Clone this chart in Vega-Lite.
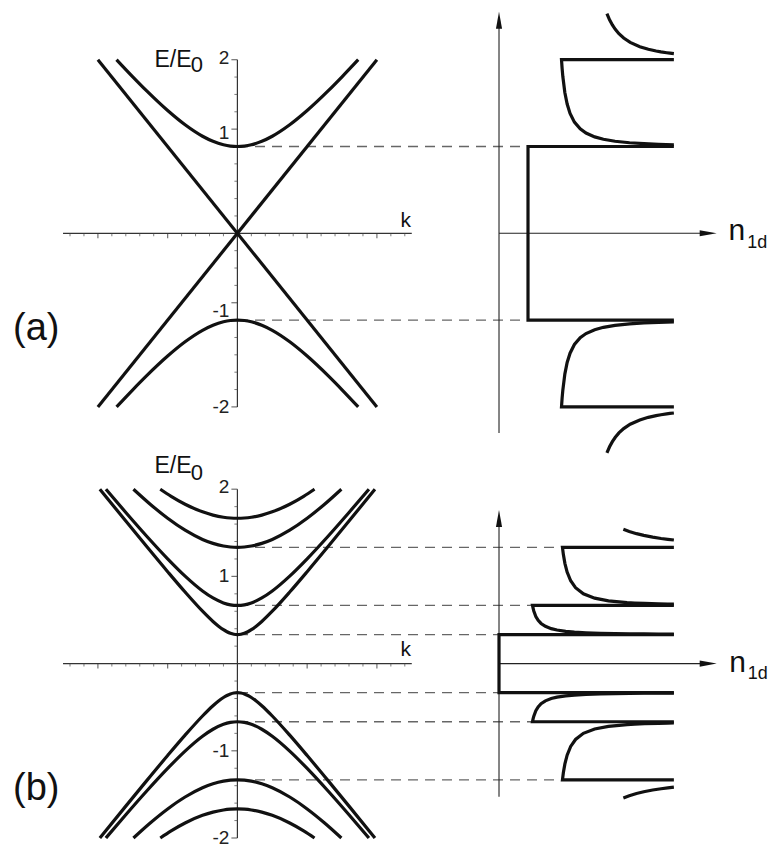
{
"$schema": "https://vega.github.io/schema/vega-lite/v6.json",
"padding": 0,
"spacing": 0,
"bounds": "flush",
"background": "white",
"config": {"view": {"stroke": null}, "font": "Liberation Sans", "concat": {"spacing": 0}},
"datasets": {
"bandA": [
{"c":"L1","k":-2,"E":-2},{"c":"L1","k":2,"E":2},
{"c":"L2","k":-2,"E":2},{"c":"L2","k":2,"E":-2},
{"c":"Hp","k":-1.7321,"E":2},{"c":"Hp","k":-1.5,"E":1.8028},{"c":"Hp","k":-1.3,"E":1.6401},{"c":"Hp","k":-1,"E":1.4142},{"c":"Hp","k":-0.75,"E":1.25},{"c":"Hp","k":-0.5,"E":1.118},{"c":"Hp","k":-0.35,"E":1.0595},{"c":"Hp","k":-0.2,"E":1.0198},{"c":"Hp","k":-0.1,"E":1.005},{"c":"Hp","k":0,"E":1},{"c":"Hp","k":0.1,"E":1.005},{"c":"Hp","k":0.2,"E":1.0198},{"c":"Hp","k":0.35,"E":1.0595},{"c":"Hp","k":0.5,"E":1.118},{"c":"Hp","k":0.75,"E":1.25},{"c":"Hp","k":1,"E":1.4142},{"c":"Hp","k":1.3,"E":1.6401},{"c":"Hp","k":1.5,"E":1.8028},{"c":"Hp","k":1.7321,"E":2},
{"c":"Hm","k":-1.7321,"E":-2},{"c":"Hm","k":-1.5,"E":-1.8028},{"c":"Hm","k":-1.3,"E":-1.6401},{"c":"Hm","k":-1,"E":-1.4142},{"c":"Hm","k":-0.75,"E":-1.25},{"c":"Hm","k":-0.5,"E":-1.118},{"c":"Hm","k":-0.35,"E":-1.0595},{"c":"Hm","k":-0.2,"E":-1.0198},{"c":"Hm","k":-0.1,"E":-1.005},{"c":"Hm","k":0,"E":-1},{"c":"Hm","k":0.1,"E":-1.005},{"c":"Hm","k":0.2,"E":-1.0198},{"c":"Hm","k":0.35,"E":-1.0595},{"c":"Hm","k":0.5,"E":-1.118},{"c":"Hm","k":0.75,"E":-1.25},{"c":"Hm","k":1,"E":-1.4142},{"c":"Hm","k":1.3,"E":-1.6401},{"c":"Hm","k":1.5,"E":-1.8028},{"c":"Hm","k":1.7321,"E":-2}
],
"bandB": [
{"c":"p1","k":-1.972,"E":2},{"c":"p1","k":-1.6,"E":1.6344},{"c":"p1","k":-1.3,"E":1.3421},{"c":"p1","k":-1,"E":1.0541},{"c":"p1","k":-0.75,"E":0.8207},{"c":"p1","k":-0.5,"E":0.6009},{"c":"p1","k":-0.35,"E":0.4833},{"c":"p1","k":-0.27,"E":0.429},{"c":"p1","k":-0.2,"E":0.3887},{"c":"p1","k":-0.15,"E":0.3655},{"c":"p1","k":-0.1,"E":0.348},{"c":"p1","k":-0.05,"E":0.337},{"c":"p1","k":0,"E":0.3333},{"c":"p1","k":0.05,"E":0.337},{"c":"p1","k":0.1,"E":0.348},{"c":"p1","k":0.15,"E":0.3655},{"c":"p1","k":0.2,"E":0.3887},{"c":"p1","k":0.27,"E":0.429},{"c":"p1","k":0.35,"E":0.4833},{"c":"p1","k":0.5,"E":0.6009},{"c":"p1","k":0.75,"E":0.8207},{"c":"p1","k":1,"E":1.0541},{"c":"p1","k":1.3,"E":1.3421},{"c":"p1","k":1.6,"E":1.6344},{"c":"p1","k":1.972,"E":2},
{"c":"m1","k":-1.972,"E":-2},{"c":"m1","k":-1.6,"E":-1.6344},{"c":"m1","k":-1.3,"E":-1.3421},{"c":"m1","k":-1,"E":-1.0541},{"c":"m1","k":-0.75,"E":-0.8207},{"c":"m1","k":-0.5,"E":-0.6009},{"c":"m1","k":-0.35,"E":-0.4833},{"c":"m1","k":-0.27,"E":-0.429},{"c":"m1","k":-0.2,"E":-0.3887},{"c":"m1","k":-0.15,"E":-0.3655},{"c":"m1","k":-0.1,"E":-0.348},{"c":"m1","k":-0.05,"E":-0.337},{"c":"m1","k":0,"E":-0.3333},{"c":"m1","k":0.05,"E":-0.337},{"c":"m1","k":0.1,"E":-0.348},{"c":"m1","k":0.15,"E":-0.3655},{"c":"m1","k":0.2,"E":-0.3887},{"c":"m1","k":0.27,"E":-0.429},{"c":"m1","k":0.35,"E":-0.4833},{"c":"m1","k":0.5,"E":-0.6009},{"c":"m1","k":0.75,"E":-0.8207},{"c":"m1","k":1,"E":-1.0541},{"c":"m1","k":1.3,"E":-1.3421},{"c":"m1","k":1.6,"E":-1.6344},{"c":"m1","k":1.972,"E":-2},
{"c":"p2","k":-1.8856,"E":2},{"c":"p2","k":-1.6,"E":1.7333},{"c":"p2","k":-1.3,"E":1.461},{"c":"p2","k":-1,"E":1.2019},{"c":"p2","k":-0.75,"E":1.0035},{"c":"p2","k":-0.5,"E":0.8333},{"c":"p2","k":-0.35,"E":0.753},{"c":"p2","k":-0.2,"E":0.696},{"c":"p2","k":-0.1,"E":0.6741},{"c":"p2","k":0,"E":0.6667},{"c":"p2","k":0.1,"E":0.6741},{"c":"p2","k":0.2,"E":0.696},{"c":"p2","k":0.35,"E":0.753},{"c":"p2","k":0.5,"E":0.8333},{"c":"p2","k":0.75,"E":1.0035},{"c":"p2","k":1,"E":1.2019},{"c":"p2","k":1.3,"E":1.461},{"c":"p2","k":1.6,"E":1.7333},{"c":"p2","k":1.8856,"E":2},
{"c":"m2","k":-1.8856,"E":-2},{"c":"m2","k":-1.6,"E":-1.7333},{"c":"m2","k":-1.3,"E":-1.461},{"c":"m2","k":-1,"E":-1.2019},{"c":"m2","k":-0.75,"E":-1.0035},{"c":"m2","k":-0.5,"E":-0.8333},{"c":"m2","k":-0.35,"E":-0.753},{"c":"m2","k":-0.2,"E":-0.696},{"c":"m2","k":-0.1,"E":-0.6741},{"c":"m2","k":0,"E":-0.6667},{"c":"m2","k":0.1,"E":-0.6741},{"c":"m2","k":0.2,"E":-0.696},{"c":"m2","k":0.35,"E":-0.753},{"c":"m2","k":0.5,"E":-0.8333},{"c":"m2","k":0.75,"E":-1.0035},{"c":"m2","k":1,"E":-1.2019},{"c":"m2","k":1.3,"E":-1.461},{"c":"m2","k":1.6,"E":-1.7333},{"c":"m2","k":1.8856,"E":-2},
{"c":"p4","k":-1.4907,"E":2},{"c":"p4","k":-1.25,"E":1.8278},{"c":"p4","k":-1,"E":1.6667},{"c":"p4","k":-0.75,"E":1.5298},{"c":"p4","k":-0.5,"E":1.424},{"c":"p4","k":-0.35,"E":1.3785},{"c":"p4","k":-0.2,"E":1.3483},{"c":"p4","k":-0.1,"E":1.3371},{"c":"p4","k":0,"E":1.3333},{"c":"p4","k":0.1,"E":1.3371},{"c":"p4","k":0.2,"E":1.3483},{"c":"p4","k":0.35,"E":1.3785},{"c":"p4","k":0.5,"E":1.424},{"c":"p4","k":0.75,"E":1.5298},{"c":"p4","k":1,"E":1.6667},{"c":"p4","k":1.25,"E":1.8278},{"c":"p4","k":1.4907,"E":2},
{"c":"m4","k":-1.4907,"E":-2},{"c":"m4","k":-1.25,"E":-1.8278},{"c":"m4","k":-1,"E":-1.6667},{"c":"m4","k":-0.75,"E":-1.5298},{"c":"m4","k":-0.5,"E":-1.424},{"c":"m4","k":-0.35,"E":-1.3785},{"c":"m4","k":-0.2,"E":-1.3483},{"c":"m4","k":-0.1,"E":-1.3371},{"c":"m4","k":0,"E":-1.3333},{"c":"m4","k":0.1,"E":-1.3371},{"c":"m4","k":0.2,"E":-1.3483},{"c":"m4","k":0.35,"E":-1.3785},{"c":"m4","k":0.5,"E":-1.424},{"c":"m4","k":0.75,"E":-1.5298},{"c":"m4","k":1,"E":-1.6667},{"c":"m4","k":1.25,"E":-1.8278},{"c":"m4","k":1.4907,"E":-2},
{"c":"p5","k":-1.1055,"E":2},{"c":"p5","k":-0.95,"E":1.9184},{"c":"p5","k":-0.75,"E":1.8277},{"c":"p5","k":-0.5,"E":1.7401},{"c":"p5","k":-0.35,"E":1.703},{"c":"p5","k":-0.2,"E":1.6786},{"c":"p5","k":-0.1,"E":1.6697},{"c":"p5","k":0,"E":1.6667},{"c":"p5","k":0.1,"E":1.6697},{"c":"p5","k":0.2,"E":1.6786},{"c":"p5","k":0.35,"E":1.703},{"c":"p5","k":0.5,"E":1.7401},{"c":"p5","k":0.75,"E":1.8277},{"c":"p5","k":0.95,"E":1.9184},{"c":"p5","k":1.1055,"E":2},
{"c":"m5","k":-1.1055,"E":-2},{"c":"m5","k":-0.95,"E":-1.9184},{"c":"m5","k":-0.75,"E":-1.8277},{"c":"m5","k":-0.5,"E":-1.7401},{"c":"m5","k":-0.35,"E":-1.703},{"c":"m5","k":-0.2,"E":-1.6786},{"c":"m5","k":-0.1,"E":-1.6697},{"c":"m5","k":0,"E":-1.6667},{"c":"m5","k":0.1,"E":-1.6697},{"c":"m5","k":0.2,"E":-1.6786},{"c":"m5","k":0.35,"E":-1.703},{"c":"m5","k":0.5,"E":-1.7401},{"c":"m5","k":0.75,"E":-1.8277},{"c":"m5","k":0.95,"E":-1.9184},{"c":"m5","k":1.1055,"E":-2}
],
"dosA": [
{"s":"tp","i":0,"n":3.721,"E":2.53},{"s":"tp","i":1,"n":3.812,"E":2.46},{"s":"tp","i":2,"n":3.909,"E":2.4},{"s":"tp","i":3,"n":4.01,"E":2.35},{"s":"tp","i":4,"n":4.135,"E":2.3},{"s":"tp","i":5,"n":4.299,"E":2.25},{"s":"tp","i":6,"n":4.523,"E":2.2},{"s":"tp","i":7,"n":4.855,"E":2.15},{"s":"tp","i":8,"n":5.149,"E":2.12},{"s":"tp","i":9,"n":5.417,"E":2.1},{"s":"tp","i":10,"n":5.584,"E":2.09},{"s":"tp","i":11,"n":5.781,"E":2.08},{"s":"tp","i":12,"n":5.895,"E":2.075},{"s":"tp","i":13,"n":6.03,"E":2.07},
{"s":"tm","i":0,"n":3.721,"E":-2.53},{"s":"tm","i":1,"n":3.812,"E":-2.46},{"s":"tm","i":2,"n":3.909,"E":-2.4},{"s":"tm","i":3,"n":4.01,"E":-2.35},{"s":"tm","i":4,"n":4.135,"E":-2.3},{"s":"tm","i":5,"n":4.299,"E":-2.25},{"s":"tm","i":6,"n":4.523,"E":-2.2},{"s":"tm","i":7,"n":4.855,"E":-2.15},{"s":"tm","i":8,"n":5.149,"E":-2.12},{"s":"tm","i":9,"n":5.417,"E":-2.1},{"s":"tm","i":10,"n":5.584,"E":-2.09},{"s":"tm","i":11,"n":5.781,"E":-2.08},{"s":"tm","i":12,"n":5.895,"E":-2.075},{"s":"tm","i":13,"n":6.03,"E":-2.07},
{"s":"cp","i":0,"n":6.03,"E":2},{"s":"cp","i":1,"n":2.155,"E":2},{"s":"cp","i":2,"n":2.176,"E":1.9},{"s":"cp","i":3,"n":2.2,"E":1.8091},{"s":"cp","i":4,"n":2.27,"E":1.6222},{"s":"cp","i":5,"n":2.35,"E":1.4886},{"s":"cp","i":6,"n":2.45,"E":1.381},{"s":"cp","i":7,"n":2.6,"E":1.281},{"s":"cp","i":8,"n":2.8,"E":1.2027},{"s":"cp","i":9,"n":3,"E":1.1547},{"s":"cp","i":10,"n":3.3,"E":1.1105},{"s":"cp","i":11,"n":3.6,"E":1.0833},{"s":"cp","i":12,"n":4,"E":1.0607},{"s":"cp","i":13,"n":4.5,"E":1.0435},{"s":"cp","i":14,"n":5,"E":1.0328},{"s":"cp","i":15,"n":5.5,"E":1.0256},{"s":"cp","i":16,"n":6.03,"E":1.0204},
{"s":"cm","i":0,"n":6.03,"E":-2},{"s":"cm","i":1,"n":2.155,"E":-2},{"s":"cm","i":2,"n":2.176,"E":-1.9},{"s":"cm","i":3,"n":2.2,"E":-1.8091},{"s":"cm","i":4,"n":2.27,"E":-1.6222},{"s":"cm","i":5,"n":2.35,"E":-1.4886},{"s":"cm","i":6,"n":2.45,"E":-1.381},{"s":"cm","i":7,"n":2.6,"E":-1.281},{"s":"cm","i":8,"n":2.8,"E":-1.2027},{"s":"cm","i":9,"n":3,"E":-1.1547},{"s":"cm","i":10,"n":3.3,"E":-1.1105},{"s":"cm","i":11,"n":3.6,"E":-1.0833},{"s":"cm","i":12,"n":4,"E":-1.0607},{"s":"cm","i":13,"n":4.5,"E":-1.0435},{"s":"cm","i":14,"n":5,"E":-1.0328},{"s":"cm","i":15,"n":5.5,"E":-1.0256},{"s":"cm","i":16,"n":6.03,"E":-1.0204},
{"s":"c0","i":0,"n":6.03,"E":1},{"s":"c0","i":1,"n":1,"E":1},{"s":"c0","i":2,"n":1,"E":-1},{"s":"c0","i":3,"n":6.03,"E":-1}
],
"dosB": [
{"s":"tp","i":0,"n":4.288,"E":1.54},{"s":"tp","i":1,"n":4.491,"E":1.515},{"s":"tp","i":2,"n":4.742,"E":1.49},{"s":"tp","i":3,"n":4.99,"E":1.47},{"s":"tp","i":4,"n":5.299,"E":1.45},{"s":"tp","i":5,"n":5.589,"E":1.435},{"s":"tp","i":6,"n":5.82,"E":1.425},{"s":"tp","i":7,"n":6.03,"E":1.417},
{"s":"tm","i":0,"n":4.288,"E":-1.54},{"s":"tm","i":1,"n":4.491,"E":-1.515},{"s":"tm","i":2,"n":4.742,"E":-1.49},{"s":"tm","i":3,"n":4.99,"E":-1.47},{"s":"tm","i":4,"n":5.299,"E":-1.45},{"s":"tm","i":5,"n":5.589,"E":-1.435},{"s":"tm","i":6,"n":5.82,"E":-1.425},{"s":"tm","i":7,"n":6.03,"E":-1.417},
{"s":"c4p","i":0,"n":6.03,"E":1.3333},{"s":"c4p","i":1,"n":2.188,"E":1.3333},{"s":"c4p","i":2,"n":2.2197,"E":1.25},{"s":"c4p","i":3,"n":2.272,"E":1.15},{"s":"c4p","i":4,"n":2.349,"E":1.05},{"s":"c4p","i":5,"n":2.4715,"E":0.95},{"s":"c4p","i":6,"n":2.639,"E":0.87},{"s":"c4p","i":7,"n":2.909,"E":0.8},{"s":"c4p","i":8,"n":3.299,"E":0.75},{"s":"c4p","i":9,"n":3.775,"E":0.72},{"s":"c4p","i":10,"n":4.415,"E":0.7},{"s":"c4p","i":11,"n":4.678,"E":0.695},{"s":"c4p","i":12,"n":5.018,"E":0.69},{"s":"c4p","i":13,"n":5.495,"E":0.685},{"s":"c4p","i":14,"n":5.816,"E":0.6825},{"s":"c4p","i":15,"n":6.03,"E":0.6812},
{"s":"c4m","i":0,"n":6.03,"E":-1.3333},{"s":"c4m","i":1,"n":2.188,"E":-1.3333},{"s":"c4m","i":2,"n":2.2197,"E":-1.25},{"s":"c4m","i":3,"n":2.272,"E":-1.15},{"s":"c4m","i":4,"n":2.349,"E":-1.05},{"s":"c4m","i":5,"n":2.4715,"E":-0.95},{"s":"c4m","i":6,"n":2.639,"E":-0.87},{"s":"c4m","i":7,"n":2.909,"E":-0.8},{"s":"c4m","i":8,"n":3.299,"E":-0.75},{"s":"c4m","i":9,"n":3.775,"E":-0.72},{"s":"c4m","i":10,"n":4.415,"E":-0.7},{"s":"c4m","i":11,"n":4.678,"E":-0.695},{"s":"c4m","i":12,"n":5.018,"E":-0.69},{"s":"c4m","i":13,"n":5.495,"E":-0.685},{"s":"c4m","i":14,"n":5.816,"E":-0.6825},{"s":"c4m","i":15,"n":6.03,"E":-0.6812},
{"s":"c2p","i":0,"n":6.03,"E":0.6667},{"s":"c2p","i":1,"n":1.1547,"E":0.6667},{"s":"c2p","i":2,"n":1.175,"E":0.635},{"s":"c2p","i":3,"n":1.2,"E":0.603},{"s":"c2p","i":4,"n":1.27,"E":0.5407},{"s":"c2p","i":5,"n":1.35,"E":0.4962},{"s":"c2p","i":6,"n":1.45,"E":0.4603},{"s":"c2p","i":7,"n":1.6,"E":0.427},{"s":"c2p","i":8,"n":1.8,"E":0.4009},{"s":"c2p","i":9,"n":2,"E":0.3849},{"s":"c2p","i":10,"n":2.3,"E":0.3702},{"s":"c2p","i":11,"n":2.6,"E":0.3611},{"s":"c2p","i":12,"n":3,"E":0.3536},{"s":"c2p","i":13,"n":3.5,"E":0.3478},{"s":"c2p","i":14,"n":4,"E":0.3443},{"s":"c2p","i":15,"n":4.5,"E":0.3419},{"s":"c2p","i":16,"n":5,"E":0.3402},{"s":"c2p","i":17,"n":5.5,"E":0.339},{"s":"c2p","i":18,"n":6.03,"E":0.338},
{"s":"c2m","i":0,"n":6.03,"E":-0.6667},{"s":"c2m","i":1,"n":1.1547,"E":-0.6667},{"s":"c2m","i":2,"n":1.175,"E":-0.635},{"s":"c2m","i":3,"n":1.2,"E":-0.603},{"s":"c2m","i":4,"n":1.27,"E":-0.5407},{"s":"c2m","i":5,"n":1.35,"E":-0.4962},{"s":"c2m","i":6,"n":1.45,"E":-0.4603},{"s":"c2m","i":7,"n":1.6,"E":-0.427},{"s":"c2m","i":8,"n":1.8,"E":-0.4009},{"s":"c2m","i":9,"n":2,"E":-0.3849},{"s":"c2m","i":10,"n":2.3,"E":-0.3702},{"s":"c2m","i":11,"n":2.6,"E":-0.3611},{"s":"c2m","i":12,"n":3,"E":-0.3536},{"s":"c2m","i":13,"n":3.5,"E":-0.3478},{"s":"c2m","i":14,"n":4,"E":-0.3443},{"s":"c2m","i":15,"n":4.5,"E":-0.3419},{"s":"c2m","i":16,"n":5,"E":-0.3402},{"s":"c2m","i":17,"n":5.5,"E":-0.339},{"s":"c2m","i":18,"n":6.03,"E":-0.338},
{"s":"c0","i":0,"n":6.03,"E":0.3333},{"s":"c0","i":1,"n":0,"E":0.3333},{"s":"c0","i":2,"n":0,"E":-0.3333},{"s":"c0","i":3,"n":6.03,"E":-0.3333}
],
"dashA": [{"E":1,"n0":-9,"n1":1},{"E":-1,"n0":-9,"n1":1}],
"dashB": [{"E":1.3333,"n0":-9,"n1":2.188},{"E":0.6667,"n0":-9,"n1":1.1547},{"E":0.3333,"n0":-9,"n1":0},{"E":-0.3333,"n0":-9,"n1":0},{"E":-0.6667,"n0":-9,"n1":1.1547},{"E":-1.3333,"n0":-9,"n1":2.188}],
"tickEA": [{"E":2,"m":1},{"E":1.8,"m":0},{"E":1.6,"m":0},{"E":1.4,"m":0},{"E":1.2,"m":1},{"E":1,"m":0},{"E":0.8,"m":0},{"E":0.6,"m":0},{"E":0.4,"m":0},{"E":0.2,"m":0},{"E":-0.2,"m":0},{"E":-0.4,"m":0},{"E":-0.6,"m":0},{"E":-0.8,"m":1},{"E":-1,"m":0},{"E":-1.2,"m":0},{"E":-1.4,"m":0},{"E":-1.6,"m":0},{"E":-1.8,"m":0},{"E":-2,"m":1}],
"tickEB": [{"E":2,"m":1},{"E":1.8,"m":0},{"E":1.6,"m":0},{"E":1.4,"m":0},{"E":1.2,"m":0},{"E":1,"m":1},{"E":0.8,"m":0},{"E":0.6,"m":0},{"E":0.4,"m":0},{"E":0.2,"m":0},{"E":-0.2,"m":0},{"E":-0.4,"m":0},{"E":-0.6,"m":0},{"E":-0.8,"m":0},{"E":-1,"m":1},{"E":-1.2,"m":0},{"E":-1.4,"m":0},{"E":-1.6,"m":0},{"E":-1.8,"m":0},{"E":-2,"m":1}],
"tickK": [{"k":-2.4,"m":0},{"k":-2.2,"m":0},{"k":-2,"m":1},{"k":-1.8,"m":0},{"k":-1.6,"m":0},{"k":-1.4,"m":0},{"k":-1.2,"m":0},{"k":-1,"m":1},{"k":-0.8,"m":0},{"k":-0.6,"m":0},{"k":-0.4,"m":0},{"k":-0.2,"m":0},{"k":0.2,"m":0},{"k":0.4,"m":0},{"k":0.6,"m":0},{"k":0.8,"m":0},{"k":1,"m":1},{"k":1.2,"m":0},{"k":1.4,"m":0},{"k":1.6,"m":0},{"k":1.8,"m":0},{"k":2,"m":1},{"k":2.2,"m":0},{"k":2.4,"m":0}],
"labA": [{"E":2.02,"t":"2"},{"E":1.16,"t":"1"},{"E":-0.9,"t":"-1"},{"E":-2,"t":"-2"}],
"labB": [{"E":2.02,"t":"2"},{"E":1,"t":"1"},{"E":-1,"t":"-1"},{"E":-2,"t":"-2"}]
},
"vconcat": [
{
"width": 771, "height": 456,
"resolve": {"scale": {"x": "independent", "y": "independent"}},
"layer": [
{"data": {"name": "dashA"}, "mark": {"type": "rule", "color": "#666", "strokeWidth": 1.3, "strokeDash": [10, 7]},
 "encoding": {"x": {"field": "n0", "type": "quantitative", "scale": {"domain": [-17.207, 9.379], "nice": false, "zero": false}, "axis": null}, "x2": {"field": "n1"}, "y": {"field": "E", "type": "quantitative", "scale": {"domain": [-2.5657, 2.6878], "nice": false, "zero": false}, "axis": null}}},
{"data": {"values": [{"k1": -2.5, "k2": 2.5, "E1": 0, "E2": 0}, {"k1": 0, "k2": 0, "E1": -2, "E2": 2}]}, "mark": {"type": "rule", "color": "#333", "strokeWidth": 1.2},
 "encoding": {"x": {"field": "k1", "type": "quantitative", "scale": {"domain": [-3.4036, 7.6502], "nice": false, "zero": false}, "axis": null}, "x2": {"field": "k2"}, "y": {"field": "E1", "type": "quantitative", "scale": {"domain": [-2.5657, 2.6878], "nice": false, "zero": false}, "axis": null}, "y2": {"field": "E2"}}},
{"data": {"name": "tickEA"}, "transform": [{"filter": "datum.m == 0"}], "mark": {"type": "tick", "orient": "horizontal", "size": 3, "thickness": 1, "xOffset": -1.5, "color": "#444"},
 "encoding": {"x": {"datum": 0, "type": "quantitative", "scale": {"domain": [-3.4036, 7.6502], "nice": false, "zero": false}, "axis": null}, "y": {"field": "E", "type": "quantitative", "scale": {"domain": [-2.5657, 2.6878], "nice": false, "zero": false}, "axis": null}}},
{"data": {"name": "tickEA"}, "transform": [{"filter": "datum.m == 1"}], "mark": {"type": "tick", "orient": "horizontal", "size": 6, "thickness": 1.2, "xOffset": -3, "color": "#333"},
 "encoding": {"x": {"datum": 0, "type": "quantitative", "scale": {"domain": [-3.4036, 7.6502], "nice": false, "zero": false}, "axis": null}, "y": {"field": "E", "type": "quantitative", "scale": {"domain": [-2.5657, 2.6878], "nice": false, "zero": false}, "axis": null}}},
{"data": {"name": "tickK"}, "transform": [{"filter": "datum.m == 0"}], "mark": {"type": "tick", "orient": "vertical", "size": 3, "thickness": 1, "yOffset": 1.5, "color": "#444"},
 "encoding": {"x": {"field": "k", "type": "quantitative", "scale": {"domain": [-3.4036, 7.6502], "nice": false, "zero": false}, "axis": null}, "y": {"datum": 0, "type": "quantitative", "scale": {"domain": [-2.5657, 2.6878], "nice": false, "zero": false}, "axis": null}}},
{"data": {"name": "tickK"}, "transform": [{"filter": "datum.m == 1"}], "mark": {"type": "tick", "orient": "vertical", "size": 5, "thickness": 1.2, "yOffset": 2.5, "color": "#333"},
 "encoding": {"x": {"field": "k", "type": "quantitative", "scale": {"domain": [-3.4036, 7.6502], "nice": false, "zero": false}, "axis": null}, "y": {"datum": 0, "type": "quantitative", "scale": {"domain": [-2.5657, 2.6878], "nice": false, "zero": false}, "axis": null}}},
{"data": {"name": "labA"}, "mark": {"type": "text", "align": "right", "baseline": "middle", "dx": -8, "fontSize": 19, "color": "#222"},
 "encoding": {"x": {"datum": 0, "type": "quantitative", "scale": {"domain": [-3.4036, 7.6502], "nice": false, "zero": false}, "axis": null}, "y": {"field": "E", "type": "quantitative", "scale": {"domain": [-2.5657, 2.6878], "nice": false, "zero": false}, "axis": null}, "text": {"field": "t"}}},
{"data": {"name": "bandA"}, "mark": {"type": "line", "interpolate": "monotone", "color": "#111", "strokeWidth": 3.2},
 "encoding": {"x": {"field": "k", "type": "quantitative", "scale": {"domain": [-3.4036, 7.6502], "nice": false, "zero": false}, "axis": null}, "y": {"field": "E", "type": "quantitative", "scale": {"domain": [-2.5657, 2.6878], "nice": false, "zero": false}, "axis": null}, "detail": {"field": "c"}}},
{"data": {"values": [{"n1": 0, "n2": 0, "E1": -2.3, "E2": 2.42}, {"n1": 0, "n2": 7.0, "E1": 0, "E2": 0}]}, "mark": {"type": "rule", "color": "#222", "strokeWidth": 1.1},
 "encoding": {"x": {"field": "n1", "type": "quantitative", "scale": {"domain": [-17.207, 9.379], "nice": false, "zero": false}, "axis": null}, "x2": {"field": "n2"}, "y": {"field": "E1", "type": "quantitative", "scale": {"domain": [-2.5657, 2.6878], "nice": false, "zero": false}, "axis": null}, "y2": {"field": "E2"}}},
{"data": {"values": [{"n": 0, "E": 2.553, "d": "up"}, {"n": 7.507, "E": 0, "d": "right"}]}, "mark": {"type": "point", "filled": true, "size": 289, "color": "#111", "opacity": 1, "strokeWidth": 0},
 "encoding": {"x": {"field": "n", "type": "quantitative", "scale": {"domain": [-17.207, 9.379], "nice": false, "zero": false}, "axis": null}, "y": {"field": "E", "type": "quantitative", "scale": {"domain": [-2.5657, 2.6878], "nice": false, "zero": false}, "axis": null}, "shape": {"field": "d", "scale": {"domain": ["up", "right"], "range": ["M0,0L0.36,2L-0.36,2Z", "M0,0L-2,-0.36L-2,0.36Z"]}, "legend": null}}},
{"data": {"name": "dosA"}, "mark": {"type": "line", "interpolate": "linear", "color": "#111", "strokeWidth": 3.2},
 "encoding": {"x": {"field": "n", "type": "quantitative", "scale": {"domain": [-17.207, 9.379], "nice": false, "zero": false}, "axis": null}, "y": {"field": "E", "type": "quantitative", "scale": {"domain": [-2.5657, 2.6878], "nice": false, "zero": false}, "axis": null}, "detail": {"field": "s"}, "order": {"field": "i", "type": "quantitative"}}},
{"data": {"values": [{"k": -1.19, "E": 1.916, "t": "E/E"}]}, "mark": {"type": "text", "align": "left", "baseline": "alphabetic", "fontSize": 23, "color": "#111"},
 "encoding": {"x": {"field": "k", "type": "quantitative", "scale": {"domain": [-3.4036, 7.6502], "nice": false, "zero": false}, "axis": null}, "y": {"field": "E", "type": "quantitative", "scale": {"domain": [-2.5657, 2.6878], "nice": false, "zero": false}, "axis": null}, "text": {"field": "t"}}},
{"data": {"values": [{"k": -0.67, "E": 1.855, "t": "0"}]}, "mark": {"type": "text", "align": "left", "baseline": "alphabetic", "fontSize": 22, "color": "#111"},
 "encoding": {"x": {"field": "k", "type": "quantitative", "scale": {"domain": [-3.4036, 7.6502], "nice": false, "zero": false}, "axis": null}, "y": {"field": "E", "type": "quantitative", "scale": {"domain": [-2.5657, 2.6878], "nice": false, "zero": false}, "axis": null}, "text": {"field": "t"}}},
{"data": {"values": [{"k": 2.34, "E": 0.076, "t": "k"}]}, "mark": {"type": "text", "align": "left", "baseline": "alphabetic", "fontSize": 21, "color": "#111"},
 "encoding": {"x": {"field": "k", "type": "quantitative", "scale": {"domain": [-3.4036, 7.6502], "nice": false, "zero": false}, "axis": null}, "y": {"field": "E", "type": "quantitative", "scale": {"domain": [-2.5657, 2.6878], "nice": false, "zero": false}, "axis": null}, "text": {"field": "t"}}},
{"data": {"values": [{"k": -3.217, "E": -1.229, "t": "(a)"}]}, "mark": {"type": "text", "align": "left", "baseline": "alphabetic", "fontSize": 38, "color": "#111"},
 "encoding": {"x": {"field": "k", "type": "quantitative", "scale": {"domain": [-3.4036, 7.6502], "nice": false, "zero": false}, "axis": null}, "y": {"field": "E", "type": "quantitative", "scale": {"domain": [-2.5657, 2.6878], "nice": false, "zero": false}, "axis": null}, "text": {"field": "t"}}},
{"data": {"values": [{"n": 7.914, "E": -0.077, "t": "n"}]}, "mark": {"type": "text", "align": "left", "baseline": "alphabetic", "fontSize": 30, "color": "#111"},
 "encoding": {"x": {"field": "n", "type": "quantitative", "scale": {"domain": [-17.207, 9.379], "nice": false, "zero": false}, "axis": null}, "y": {"field": "E", "type": "quantitative", "scale": {"domain": [-2.5657, 2.6878], "nice": false, "zero": false}, "axis": null}, "text": {"field": "t"}}},
{"data": {"values": [{"n": 8.56, "E": -0.173, "t": "1d"}]}, "mark": {"type": "text", "align": "left", "baseline": "alphabetic", "fontSize": 18, "color": "#111"},
 "encoding": {"x": {"field": "n", "type": "quantitative", "scale": {"domain": [-17.207, 9.379], "nice": false, "zero": false}, "axis": null}, "y": {"field": "E", "type": "quantitative", "scale": {"domain": [-2.5657, 2.6878], "nice": false, "zero": false}, "axis": null}, "text": {"field": "t"}}}
]
},
{
"width": 771, "height": 392,
"resolve": {"scale": {"x": "independent", "y": "independent"}},
"layer": [
{"data": {"name": "dashB"}, "mark": {"type": "rule", "color": "#666", "strokeWidth": 1.3, "strokeDash": [10, 7]},
 "encoding": {"x": {"field": "n0", "type": "quantitative", "scale": {"domain": [-17.207, 9.379], "nice": false, "zero": false}, "axis": null}, "x2": {"field": "n1"}, "y": {"field": "E", "type": "quantitative", "scale": {"domain": [-2.1147, 2.3807], "nice": false, "zero": false}, "axis": null}}},
{"data": {"values": [{"k1": -2.5, "k2": 2.5, "E1": 0, "E2": 0}, {"k1": 0, "k2": 0, "E1": -2, "E2": 2}]}, "mark": {"type": "rule", "color": "#333", "strokeWidth": 1.2},
 "encoding": {"x": {"field": "k1", "type": "quantitative", "scale": {"domain": [-3.4036, 7.6502], "nice": false, "zero": false}, "axis": null}, "x2": {"field": "k2"}, "y": {"field": "E1", "type": "quantitative", "scale": {"domain": [-2.1147, 2.3807], "nice": false, "zero": false}, "axis": null}, "y2": {"field": "E2"}}},
{"data": {"name": "tickEB"}, "transform": [{"filter": "datum.m == 0"}], "mark": {"type": "tick", "orient": "horizontal", "size": 3, "thickness": 1, "xOffset": -1.5, "color": "#444"},
 "encoding": {"x": {"datum": 0, "type": "quantitative", "scale": {"domain": [-3.4036, 7.6502], "nice": false, "zero": false}, "axis": null}, "y": {"field": "E", "type": "quantitative", "scale": {"domain": [-2.1147, 2.3807], "nice": false, "zero": false}, "axis": null}}},
{"data": {"name": "tickEB"}, "transform": [{"filter": "datum.m == 1"}], "mark": {"type": "tick", "orient": "horizontal", "size": 6, "thickness": 1.2, "xOffset": -3, "color": "#333"},
 "encoding": {"x": {"datum": 0, "type": "quantitative", "scale": {"domain": [-3.4036, 7.6502], "nice": false, "zero": false}, "axis": null}, "y": {"field": "E", "type": "quantitative", "scale": {"domain": [-2.1147, 2.3807], "nice": false, "zero": false}, "axis": null}}},
{"data": {"name": "tickK"}, "transform": [{"filter": "datum.m == 0"}], "mark": {"type": "tick", "orient": "vertical", "size": 3, "thickness": 1, "yOffset": 1.5, "color": "#444"},
 "encoding": {"x": {"field": "k", "type": "quantitative", "scale": {"domain": [-3.4036, 7.6502], "nice": false, "zero": false}, "axis": null}, "y": {"datum": 0, "type": "quantitative", "scale": {"domain": [-2.1147, 2.3807], "nice": false, "zero": false}, "axis": null}}},
{"data": {"name": "tickK"}, "transform": [{"filter": "datum.m == 1"}], "mark": {"type": "tick", "orient": "vertical", "size": 5, "thickness": 1.2, "yOffset": 2.5, "color": "#333"},
 "encoding": {"x": {"field": "k", "type": "quantitative", "scale": {"domain": [-3.4036, 7.6502], "nice": false, "zero": false}, "axis": null}, "y": {"datum": 0, "type": "quantitative", "scale": {"domain": [-2.1147, 2.3807], "nice": false, "zero": false}, "axis": null}}},
{"data": {"name": "labB"}, "mark": {"type": "text", "align": "right", "baseline": "middle", "dx": -8, "fontSize": 19, "color": "#222"},
 "encoding": {"x": {"datum": 0, "type": "quantitative", "scale": {"domain": [-3.4036, 7.6502], "nice": false, "zero": false}, "axis": null}, "y": {"field": "E", "type": "quantitative", "scale": {"domain": [-2.1147, 2.3807], "nice": false, "zero": false}, "axis": null}, "text": {"field": "t"}}},
{"data": {"name": "bandB"}, "mark": {"type": "line", "interpolate": "monotone", "color": "#111", "strokeWidth": 3.2},
 "encoding": {"x": {"field": "k", "type": "quantitative", "scale": {"domain": [-3.4036, 7.6502], "nice": false, "zero": false}, "axis": null}, "y": {"field": "E", "type": "quantitative", "scale": {"domain": [-2.1147, 2.3807], "nice": false, "zero": false}, "axis": null}, "detail": {"field": "c"}}},
{"data": {"values": [{"n1": 0, "n2": 0, "E1": -1.526, "E2": 1.6}, {"n1": 0, "n2": 7.0, "E1": 0, "E2": 0}]}, "mark": {"type": "rule", "color": "#222", "strokeWidth": 1.1},
 "encoding": {"x": {"field": "n1", "type": "quantitative", "scale": {"domain": [-17.207, 9.379], "nice": false, "zero": false}, "axis": null}, "x2": {"field": "n2"}, "y": {"field": "E1", "type": "quantitative", "scale": {"domain": [-2.1147, 2.3807], "nice": false, "zero": false}, "axis": null}, "y2": {"field": "E2"}}},
{"data": {"values": [{"n": 0, "E": 1.761, "d": "up"}, {"n": 7.507, "E": 0, "d": "right"}]}, "mark": {"type": "point", "filled": true, "size": 289, "color": "#111", "opacity": 1, "strokeWidth": 0},
 "encoding": {"x": {"field": "n", "type": "quantitative", "scale": {"domain": [-17.207, 9.379], "nice": false, "zero": false}, "axis": null}, "y": {"field": "E", "type": "quantitative", "scale": {"domain": [-2.1147, 2.3807], "nice": false, "zero": false}, "axis": null}, "shape": {"field": "d", "scale": {"domain": ["up", "right"], "range": ["M0,0L0.36,2L-0.36,2Z", "M0,0L-2,-0.36L-2,0.36Z"]}, "legend": null}}},
{"data": {"name": "dosB"}, "mark": {"type": "line", "interpolate": "linear", "color": "#111", "strokeWidth": 3.2},
 "encoding": {"x": {"field": "n", "type": "quantitative", "scale": {"domain": [-17.207, 9.379], "nice": false, "zero": false}, "axis": null}, "y": {"field": "E", "type": "quantitative", "scale": {"domain": [-2.1147, 2.3807], "nice": false, "zero": false}, "axis": null}, "detail": {"field": "s"}, "order": {"field": "i", "type": "quantitative"}}},
{"data": {"values": [{"k": -1.19, "E": 2.182, "t": "E/E"}]}, "mark": {"type": "text", "align": "left", "baseline": "alphabetic", "fontSize": 23, "color": "#111"},
 "encoding": {"x": {"field": "k", "type": "quantitative", "scale": {"domain": [-3.4036, 7.6502], "nice": false, "zero": false}, "axis": null}, "y": {"field": "E", "type": "quantitative", "scale": {"domain": [-2.1147, 2.3807], "nice": false, "zero": false}, "axis": null}, "text": {"field": "t"}}},
{"data": {"values": [{"k": -0.67, "E": 2.11, "t": "0"}]}, "mark": {"type": "text", "align": "left", "baseline": "alphabetic", "fontSize": 22, "color": "#111"},
 "encoding": {"x": {"field": "k", "type": "quantitative", "scale": {"domain": [-3.4036, 7.6502], "nice": false, "zero": false}, "axis": null}, "y": {"field": "E", "type": "quantitative", "scale": {"domain": [-2.1147, 2.3807], "nice": false, "zero": false}, "axis": null}, "text": {"field": "t"}}},
{"data": {"values": [{"k": 2.34, "E": 0.09, "t": "k"}]}, "mark": {"type": "text", "align": "left", "baseline": "alphabetic", "fontSize": 21, "color": "#111"},
 "encoding": {"x": {"field": "k", "type": "quantitative", "scale": {"domain": [-3.4036, 7.6502], "nice": false, "zero": false}, "axis": null}, "y": {"field": "E", "type": "quantitative", "scale": {"domain": [-2.1147, 2.3807], "nice": false, "zero": false}, "axis": null}, "text": {"field": "t"}}},
{"data": {"values": [{"k": -3.217, "E": -1.564, "t": "(b)"}]}, "mark": {"type": "text", "align": "left", "baseline": "alphabetic", "fontSize": 38, "color": "#111"},
 "encoding": {"x": {"field": "k", "type": "quantitative", "scale": {"domain": [-3.4036, 7.6502], "nice": false, "zero": false}, "axis": null}, "y": {"field": "E", "type": "quantitative", "scale": {"domain": [-2.1147, 2.3807], "nice": false, "zero": false}, "axis": null}, "text": {"field": "t"}}},
{"data": {"values": [{"n": 7.94, "E": -0.093, "t": "n"}]}, "mark": {"type": "text", "align": "left", "baseline": "alphabetic", "fontSize": 30, "color": "#111"},
 "encoding": {"x": {"field": "n", "type": "quantitative", "scale": {"domain": [-17.207, 9.379], "nice": false, "zero": false}, "axis": null}, "y": {"field": "E", "type": "quantitative", "scale": {"domain": [-2.1147, 2.3807], "nice": false, "zero": false}, "axis": null}, "text": {"field": "t"}}},
{"data": {"values": [{"n": 8.58, "E": -0.18, "t": "1d"}]}, "mark": {"type": "text", "align": "left", "baseline": "alphabetic", "fontSize": 18, "color": "#111"},
 "encoding": {"x": {"field": "n", "type": "quantitative", "scale": {"domain": [-17.207, 9.379], "nice": false, "zero": false}, "axis": null}, "y": {"field": "E", "type": "quantitative", "scale": {"domain": [-2.1147, 2.3807], "nice": false, "zero": false}, "axis": null}, "text": {"field": "t"}}}
]
}
]
}
